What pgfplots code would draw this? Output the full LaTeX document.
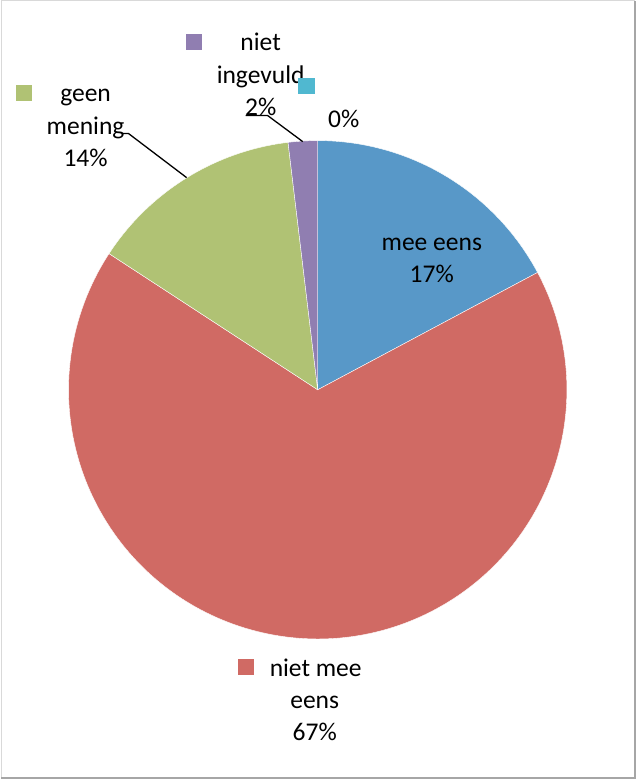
\documentclass[border=0pt]{standalone}
\usepackage{fontspec}
\setmainfont{Carlito}
\usepackage{pgfplots}
\usepackage{pgfplotstable}
\pgfplotsset{compat=1.18}

\definecolor{cMee}{HTML}{5898C8}
\definecolor{cNietMee}{HTML}{D06A64}
\definecolor{cGeen}{HTML}{B0C274}
\definecolor{cNiet}{HTML}{907EB1}
\definecolor{cLeeg}{HTML}{50B8D0}

% share of each answer, in percent (clockwise from 12 o'clock)
\pgfplotstableread{
answer value
mee 17.2
nietmee 67.0
geen 13.9
nietingevuld 1.9
leeg 0.0
}\piedata

% centre and radius of the pie, in pixels of the picture
\def\cx{317}
\def\cy{389}
\def\rr{249}

\newcommand\slice[2]{%
  \fill[#2, draw=white, line width=0.4pt]
    (axis cs:\cx,\cy) --
    (axis cs:{\cx+\rr*cos(\csname sa#1\endcsname)},{\cy-\rr*sin(\csname sa#1\endcsname)})
    arc[start angle=\csname sa#1\endcsname, end angle=\csname ea#1\endcsname, radius=\rr pt]
    -- cycle;}
\newcommand\lbl[3]{\node[anchor=base, inner sep=0pt, font=\fontsize{25.5}{32}\selectfont]
  at (axis cs:#1,#2) {#3};}

\begin{document}
\begin{tikzpicture}
\pgfmathsetmacro{\cum}{90}
\pgfplotsforeachungrouped \i in {0,...,4}{%
  \pgfplotstablegetelem{\i}{value}\of\piedata
  \pgfmathsetmacro{\nxt}{\cum-3.6*\pgfplotsretval}%
  \expandafter\xdef\csname sa\i\endcsname{\cum}%
  \expandafter\xdef\csname ea\i\endcsname{\nxt}%
  \xdef\cum{\nxt}%
}
\begin{axis}[
  hide axis, scale only axis,
  x=1pt, y=1pt,
  xmin=0, xmax=637, ymin=0, ymax=779,
  y dir=reverse, clip=false,
]
  % frame
  \draw[gray!30, line width=1pt] (axis cs:0.5,777) -- (axis cs:0.5,0.5) -- (axis cs:634,0.5);
  \draw[gray!70, line width=2pt] (axis cs:634,0.5) -- (axis cs:634,777) -- (axis cs:0.5,777);

  \slice{0}{cMee}
  \slice{1}{cNietMee}
  \slice{2}{cGeen}
  \slice{3}{cNiet}

  % legend keys beside the labels
  \addplot[only marks, mark=square*, mark size=7.5pt, color=cNietMee] coordinates {(245.5,665.5)};
  \addplot[only marks, mark=square*, mark size=7.5pt, color=cGeen] coordinates {(23.5,92.5)};
  \addplot[only marks, mark=square*, mark size=7.5pt, color=cNiet] coordinates {(193.5,41.5)};
  \addplot[only marks, mark=square*, mark size=7.5pt, color=cLeeg] coordinates {(305.5,85.5)};

  % leader lines
  \draw[black, line width=1.3pt] (axis cs:122,133) -- (axis cs:128,133) -- (axis cs:186,177);
  \draw[black, line width=1.3pt] (axis cs:245,115) -- (axis cs:267,115) -- (axis cs:302,141);

  % labels
  \lbl{431}{250}{mee eens}
  \lbl{431}{282}{17\%}
  \lbl{315}{676}{niet mee}
  \lbl{314}{708}{eens}
  \lbl{314}{740}{67\%}
  \lbl{85}{101}{geen}
  \lbl{85}{134}{mening}
  \lbl{85}{166}{14\%}
  \lbl{260}{50}{niet}
  \lbl{260}{83}{ingevuld}
  \lbl{260}{115}{2\%}
  \lbl{343}{127}{0\%}
\end{axis}
\end{tikzpicture}
\end{document}
